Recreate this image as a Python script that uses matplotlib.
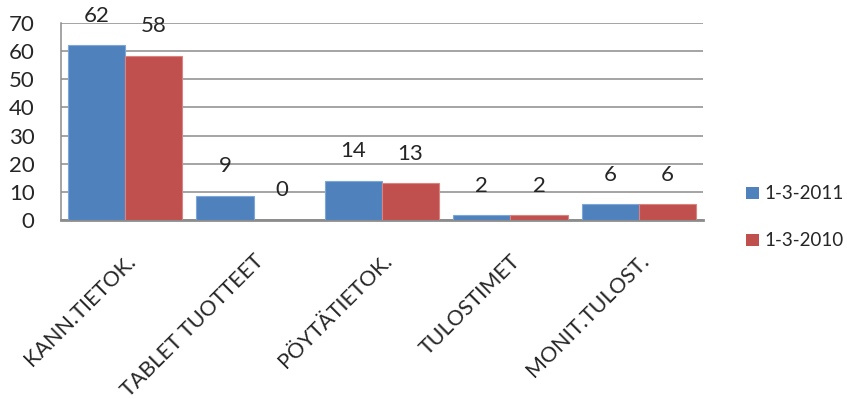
import numpy as np
import matplotlib
matplotlib.use('Agg')
import matplotlib.pyplot as plt
from matplotlib.patches import Patch

plt.rcParams['font.family'] = ['Lato', 'DejaVu Sans']

categories = ['KANN.TIETOK.', 'TABLET TUOTTEET', 'PÖYTÄTIETOK.', 'TULOSTIMET', 'MONIT.TULOST.']
series_names = ['1-3-2011', '1-3-2010']
values_2011 = [62.1, 8.6, 13.9, 1.6, 5.6]
values_2010 = [58.4, 0, 13.1, 1.6, 5.6]
yticks = [0, 10, 20, 30, 40, 50, 60, 70]

blue = '#4F81BD'
red = '#C0504D'
txt = '#262626'
grid = '#8C8C8C'

fig = plt.figure(figsize=(8.47, 3.99), dpi=100)
ax = fig.add_axes([61 / 847, 1 - 220 / 399, (703 - 61) / 847, (220 - 23) / 399])

x = np.arange(len(categories))
w = 0.445
b1 = ax.bar(x - w / 2, values_2011, w, color=blue, edgecolor='#7FA6D9', linewidth=0.8, zorder=3)
b2 = ax.bar(x + w / 2, values_2010, w, color=red, edgecolor='#D98481', linewidth=0.8, zorder=3)

for bars, vals in [(b1, values_2011), (b2, values_2010)]:
    for rect, v in zip(bars, vals):
        ax.annotate('%.0f' % v, (rect.get_x() + rect.get_width() / 2, rect.get_height()),
                    xytext=(0, 17), textcoords='offset points', ha='center', va='baseline',
                    fontsize=16, color=txt)

ax.set_xlim(-0.5, len(categories) - 0.5)
ax.set_ylim(0, 70)
ax.set_yticks(yticks)
ax.set_yticklabels([str(t) for t in yticks], fontsize=16, color=txt)
ax.tick_params(axis='y', length=0, pad=19)
ax.yaxis.grid(True, color=grid, linewidth=1.1, zorder=0)
ax.set_axisbelow(True)

ax.set_xticks(x)
ax.set_xticklabels(categories, fontsize=15.5, color=txt, rotation=45, ha='right',
                   va='top', rotation_mode='anchor')
ax.tick_params(axis='x', length=0, pad=22)

for s in ['top', 'right']:
    ax.spines[s].set_visible(False)
ax.spines['left'].set_color(grid)
ax.spines['left'].set_linewidth(1.1)
ax.spines['bottom'].set_color(grid)
ax.spines['bottom'].set_linewidth(2)

handles = [Patch(facecolor=blue, edgecolor='none'), Patch(facecolor=red, edgecolor='none')]
fig.legend(handles, series_names, loc='upper left', bbox_to_anchor=(737 / 847, 1 - 176 / 399),
           frameon=False, fontsize=13.5, handlelength=0.65, handleheight=0.65,
           handletextpad=0.3, labelspacing=1.6, borderpad=0, labelcolor=txt)

plt.savefig('out.png', dpi=100)
plt.close()
